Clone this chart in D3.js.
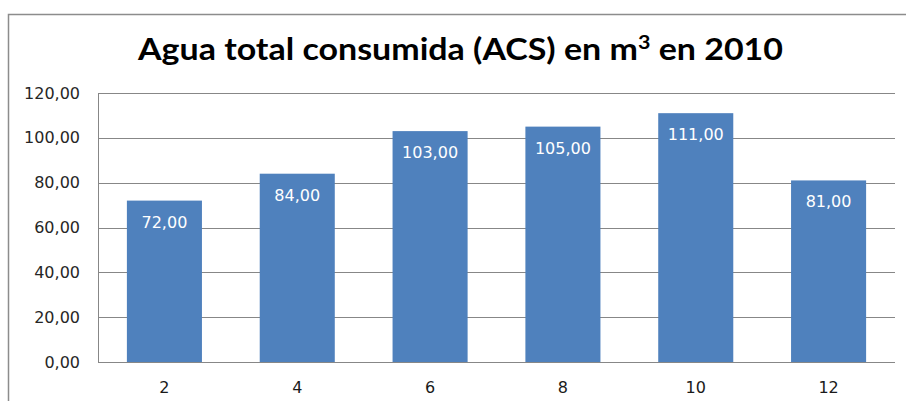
<!DOCTYPE html>
<html>
<head>
<meta charset="utf-8">
<script src="https://cdn.jsdelivr.net/npm/d3@7"></script>
<style>
  html, body { margin: 0; padding: 0; background: #fff; }
  svg { display: block; }
</style>
</head>
<body>
<svg id="chart" width="906" height="401"></svg>
<script>
const categories = ["2", "4", "6", "8", "10", "12"];
const values = [72, 84, 103, 105, 111, 81];
const yTicks = [0, 20, 40, 60, 80, 100, 120];
const titleMain = "Agua total consumida (ACS) en m";
const titleSup = "3";
const titleEnd = " en 2010";

const W = 906, H = 401;
const plot = { left: 98, right: 895, top: 93, bottom: 362 };

const svg = d3.select("#chart");

// chart border (extends beyond the visible area)
svg.append("rect")
  .attr("x", 8.5).attr("y", 14.5)
  .attr("width", 1200).attr("height", 1200)
  .attr("fill", "#fff")
  .attr("stroke", "#8c8c8c")
  .attr("stroke-width", 1.5);

const x = d3.scaleBand()
  .domain(categories)
  .range([plot.left, plot.right])
  .paddingInner(0.435)
  .paddingOuter(0.2175);

const y = d3.scaleLinear()
  .domain([0, 120])
  .range([plot.bottom, plot.top]);

const fmt = v => d3.format(".2f")(v).replace(".", ",");

// gridlines
svg.append("g")
  .selectAll("line")
  .data(yTicks)
  .join("line")
  .attr("x1", plot.left).attr("x2", plot.right)
  .attr("y1", d => Math.round(y(d)) + 0.5)
  .attr("y2", d => Math.round(y(d)) + 0.5)
  .attr("stroke", "#878787")
  .attr("stroke-width", 1);

// y axis line
svg.append("line")
  .attr("x1", plot.left + 0.5).attr("x2", plot.left + 0.5)
  .attr("y1", Math.round(y(120)) + 0.5).attr("y2", Math.round(y(0)) + 0.5)
  .attr("stroke", "#878787");

// y tick labels
svg.append("g")
  .selectAll("text")
  .data(yTicks)
  .join("text")
  .attr("x", 80)
  .attr("y", d => y(d) + 1)
  .attr("text-anchor", "end")
  .attr("dominant-baseline", "middle")
  .attr("font-family", "DejaVu Sans, Verdana, sans-serif")
  .attr("font-size", "16px")
  .attr("fill", "#262626")
  .text(d => fmt(d));

// bars
svg.append("g")
  .selectAll("rect")
  .data(values)
  .join("rect")
  .attr("x", (d, i) => x(categories[i]))
  .attr("y", d => y(d))
  .attr("width", x.bandwidth())
  .attr("height", d => y(0) - y(d))
  .attr("fill", "#4F81BD");

// baseline on top of bars
svg.append("line")
  .attr("x1", plot.left).attr("x2", plot.right)
  .attr("y1", Math.round(y(0)) + 0.5).attr("y2", Math.round(y(0)) + 0.5)
  .attr("stroke", "#878787");

// data labels
svg.append("g")
  .selectAll("text")
  .data(values)
  .join("text")
  .attr("x", (d, i) => x(categories[i]) + x.bandwidth() / 2)
  .attr("y", d => y(d) + 27)
  .attr("text-anchor", "middle")
  .attr("font-family", "DejaVu Sans, Verdana, sans-serif")
  .attr("font-size", "16px")
  .attr("fill", "#ffffff")
  .text(d => fmt(d));

// x labels
svg.append("g")
  .selectAll("text")
  .data(categories)
  .join("text")
  .attr("x", d => x(d) + x.bandwidth() / 2)
  .attr("y", 393)
  .attr("text-anchor", "middle")
  .attr("font-family", "DejaVu Sans, Verdana, sans-serif")
  .attr("font-size", "16px")
  .attr("fill", "#1a1a1a")
  .text(d => d);

// title
const title = svg.append("text")
  .attr("x", 138)
  .attr("y", 59.5)
  .attr("font-family", "Lato, 'Open Sans', sans-serif")
  .attr("font-weight", "bold")
  .attr("font-size", "30px")
  .attr("fill", "#000")
  .attr("textLength", 645)
  .attr("lengthAdjust", "spacingAndGlyphs");
title.append("tspan").text(titleMain);
title.append("tspan").attr("dy", -11).attr("font-size", "19px").text(titleSup);
title.append("tspan").attr("dy", 11).text(titleEnd);
</script>
</body>
</html>
